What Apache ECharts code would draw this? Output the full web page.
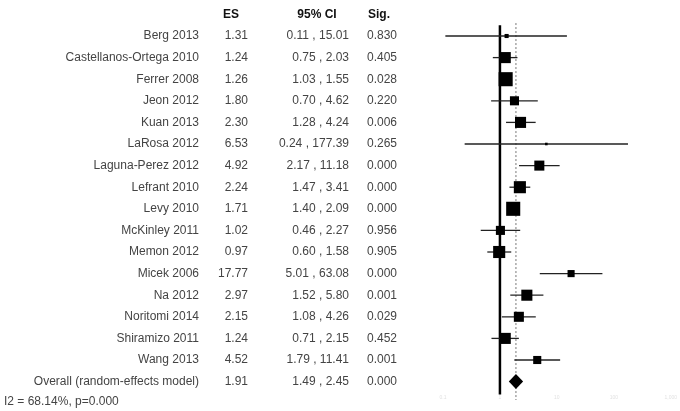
<!DOCTYPE html>
<html>
<head>
<meta charset="utf-8">
<script src="https://cdn.jsdelivr.net/npm/echarts@6/dist/echarts.min.js"></script>
<style>
  html, body { margin: 0; padding: 0; background: #fff; }
  #forest { width: 680px; height: 411px; }
</style>
</head>
<body>
<div id="forest"></div>
<script>
// studies in the meta-analysis
var studies = ['Berg 2013', 'Castellanos-Ortega 2010', 'Ferrer 2008', 'Jeon 2012', 'Kuan 2013',
	'LaRosa 2012', 'Laguna-Perez 2012', 'Lefrant 2010', 'Levy 2010', 'McKinley 2011',
	'Memon 2012', 'Micek 2006', 'Na 2012', 'Noritomi 2014', 'Shiramizo 2011', 'Wang 2013'];
var es     = [1.31, 1.24, 1.26, 1.80, 2.30, 6.53, 4.92, 2.24, 1.71, 1.02, 0.97, 17.77, 2.97, 2.15, 1.24, 4.52];
var ciLow  = [0.11, 0.75, 1.03, 0.70, 1.28, 0.24, 2.17, 1.47, 1.40, 0.46, 0.60, 5.01, 1.52, 1.08, 0.71, 1.79];
var ciHigh = [15.01, 2.03, 1.55, 4.62, 4.24, 177.39, 11.18, 3.41, 2.09, 2.27, 1.58, 63.08, 5.80, 4.26, 2.15, 11.41];
var sig    = [0.830, 0.405, 0.028, 0.220, 0.006, 0.265, 0.000, 0.000, 0.000, 0.956, 0.905, 0.000, 0.001, 0.029, 0.452, 0.001];
// relative study weights (%)
var weights = [1.0, 7.3, 11.8, 4.9, 7.3, 0.4, 6.0, 8.7, 11.8, 4.9, 8.7, 3.0, 7.3, 6.0, 7.3, 3.9];

var overallLabel = 'Overall (random-effects model)';
var overall = {es: 1.91, lo: 1.49, hi: 2.45, sig: 0.000};
var heterogeneity = 'I2 = 68.14%, p=0.000';
var headers = ['ES', '95% CI', 'Sig.'];

var nRows = studies.length + 1;   // studies + overall

//////////////////表格文字
var textColor = '#444';
var textFont = '12px "Liberation Sans", Arial, sans-serif';
var headFont = 'bold 12px "Liberation Sans", Arial, sans-serif';

function rowText(i) {
	if (i < studies.length) {
		return [studies[i], es[i].toFixed(2), ciLow[i].toFixed(2) + ' , ' + ciHigh[i].toFixed(2), sig[i].toFixed(3)];
	}
	return [overallLabel, overall.es.toFixed(2), overall.lo.toFixed(2) + ' , ' + overall.hi.toFixed(2), overall.sig.toFixed(3)];
}

function renderTable(params, api) {
	var i = api.value(1);
	var y = api.coord([1, i])[1];
	var children = [];
	if (i < 0) {
		children.push({type: 'text', x: 223, y: y, style: {text: headers[0], font: headFont, fill: '#111', align: 'left', verticalAlign: 'middle'}});
		children.push({type: 'text', x: 317, y: y, style: {text: headers[1], font: headFont, fill: '#111', align: 'center', verticalAlign: 'middle'}});
		children.push({type: 'text', x: 368, y: y, style: {text: headers[2], font: headFont, fill: '#111', align: 'left', verticalAlign: 'middle'}});
	} else if (i >= nRows) {
		children.push({type: 'text', x: 4, y: y - 1.5, style: {text: heterogeneity, font: textFont, fill: textColor, align: 'left', verticalAlign: 'middle'}});
	} else {
		var t = rowText(i);
		children.push({type: 'text', x: 199, y: y, style: {text: t[0], font: textFont, fill: textColor, align: 'right', verticalAlign: 'middle'}});
		children.push({type: 'text', x: 248, y: y, style: {text: t[1], font: textFont, fill: textColor, align: 'right', verticalAlign: 'middle'}});
		children.push({type: 'text', x: 349, y: y, style: {text: t[2], font: textFont, fill: textColor, align: 'right', verticalAlign: 'middle'}});
		children.push({type: 'text', x: 367, y: y, style: {text: t[3], font: textFont, fill: textColor, align: 'left', verticalAlign: 'middle'}});
	}
	return {type: 'group', children: children};
}

//////////////////方块和置信区间
function renderStudy(params, api) {
	var row = api.value(1);
	var c = api.coord([api.value(0), row]);
	var pLo = api.coord([api.value(2), row]);
	var pHi = api.coord([api.value(3), row]);
	var s = 4.1 * Math.sqrt(api.value(4));
	return {
		type: 'group',
		children: [
			{type: 'line', shape: {x1: pLo[0], y1: c[1], x2: pHi[0], y2: c[1]}, style: {stroke: '#222', lineWidth: 1.3}},
			{type: 'rect', shape: {x: c[0] - s / 2, y: c[1] - s / 2, width: s, height: s}, style: {fill: '#000'}}
		]
	};
}

function renderDiamond(params, api) {
	var row = api.value(1);
	var c = api.coord([api.value(0), row]);
	var pLo = api.coord([api.value(2), row]);
	var pHi = api.coord([api.value(3), row]);
	var h = 7.5;
	return {
		type: 'polygon',
		shape: {points: [[pLo[0] - 1, c[1]], [c[0], c[1] - h], [pHi[0] + 1, c[1]], [c[0], c[1] + h]]},
		style: {fill: '#000'}
	};
}

var studyData = [];
for (var i = 0; i < studies.length; i++) {
	studyData.push([es[i], i, ciLow[i], ciHigh[i], weights[i]]);
}
var tableData = [];
for (var j = -1; j <= nRows; j++) {
	tableData.push([1, j]);
}

var myChart = echarts.init(document.getElementById('forest'));
var option = {
	animation: false,
	grid: {left: 443, right: 9, top: 14.4, bottom: 7.8},
	xAxis: {
		type: 'log',
		logBase: 10,
		min: 0.1,
		max: 1000,
		axisLine: {show: false},
		axisTick: {show: false},
		splitLine: {show: false},
		axisLabel: {color: '#e2e2e2', fontSize: 5, margin: -8}
	},
	yAxis: {
		type: 'value',
		min: -1,
		max: nRows,
		inverse: true,
		show: false
	},
	series: [
		{
			type: 'line',
			z: 1,
			data: [[overall.es, -0.6], [overall.es, 16.85]],
			symbol: 'none',
			lineStyle: {color: '#777', width: 1, type: [2, 2]},
			silent: true
		},
		{
			type: 'line',
			z: 1,
			data: [[1, -0.5], [1, 16.6]],
			symbol: 'none',
			lineStyle: {color: '#000', width: 2.5},
			silent: true
		},
		{
			type: 'custom',
			z: 3,
			renderItem: renderStudy,
			encode: {x: [0, 2, 3], y: 1},
			data: studyData
		},
		{
			type: 'custom',
			z: 3,
			renderItem: renderDiamond,
			encode: {x: [0, 2, 3], y: 1},
			data: [[overall.es, studies.length, overall.lo, overall.hi]]
		},
		{
			type: 'custom',
			renderItem: renderTable,
			encode: {x: 0, y: 1},
			clip: false,
			data: tableData
		}
	]
};
myChart.setOption(option);
</script>
</body>
</html>
